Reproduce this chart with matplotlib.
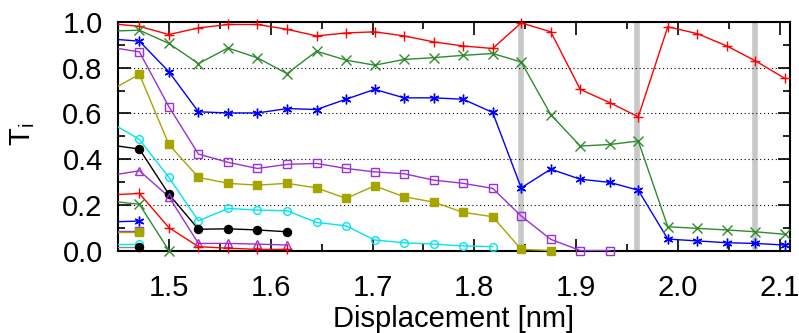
import numpy as np
import matplotlib
matplotlib.use('Agg')
import matplotlib.pyplot as plt
from matplotlib.ticker import MultipleLocator, FormatStrFormatter

plt.rcParams['font.family'] = ['Liberation Sans', 'DejaVu Sans']

# displacement grid (first point lies just left of the visible range)
disp = [1.442, 1.471, 1.500, 1.529, 1.558, 1.587, 1.616, 1.645, 1.674, 1.702,
        1.731, 1.760, 1.789, 1.818, 1.846, 1.875, 1.904, 1.933, 1.961, 1.990,
        2.019, 2.048, 2.076, 2.105]

red_hi = [0.993, 0.981, 0.945, 0.974, 0.989, 0.989, 0.968, 0.939, 0.952, 0.957,
          0.939, 0.913, 0.895, 0.884, 0.996, 0.957, 0.705, 0.647, 0.585, 0.979,
          0.949, 0.895, 0.830, 0.753]
green_hi = [0.960, 0.964, 0.906, 0.818, 0.886, 0.843, 0.774, 0.872, 0.833, 0.811,
            0.836, 0.844, 0.854, 0.862, 0.825, 0.595, 0.457, 0.464, 0.479, 0.104,
            0.097, 0.090, 0.082, 0.071]
blue_hi = [0.926, 0.916, 0.782, 0.607, 0.602, 0.602, 0.621, 0.617, 0.662, 0.705,
           0.668, 0.668, 0.662, 0.604, 0.274, 0.356, 0.312, 0.298, 0.264, 0.050,
           0.042, 0.034, 0.031, 0.024]
purple_sq = [0.890, 0.869, 0.629, 0.422, 0.386, 0.359, 0.377, 0.381, 0.359, 0.344,
             0.336, 0.308, 0.294, 0.272, 0.151, 0.049, 0.0, 0.0]
olive_sq = [0.699, 0.771, 0.464, 0.320, 0.294, 0.286, 0.294, 0.274, 0.228, 0.283,
            0.235, 0.212, 0.167, 0.148, 0.005, 0.0]
cyan_hi = [0.562, 0.486, 0.320, 0.130, 0.184, 0.177, 0.174, 0.123, 0.108, 0.046,
           0.034, 0.028, 0.020, 0.017]
black_hi = [0.462, 0.444, 0.246, 0.093, 0.095, 0.090, 0.082]
purple_tri = [0.328, 0.349, 0.235, 0.031, 0.031, 0.028, 0.024]
red_lo = [0.243, 0.250, 0.100, 0.017, 0.010, 0.005, 0.005]
green_lo = [0.217, 0.202, 0.0]
blue_lo = [0.125, 0.129]
purple_lo = [0.085, 0.085]
olive_lo = [0.080, 0.080]
cyan_lo = [0.027, 0.027]
black_lo = [0.017, 0.017]

# transitions marked by grey bars
transitions = [1.846, 1.960, 2.076]

RED, GREEN, BLUE = '#ff0000', '#2e8b2e', '#0000ff'
PURPLE, OLIVE, CYAN = '#9b30d9', '#a5a500', '#00e5ee'
STAR = (6, 2, 0)

# values, line colour, marker, face colour, marker size
series = [
    (red_hi, RED, '+', 'none', 7),
    (green_hi, GREEN, 'x', 'none', 7),
    (blue_hi, BLUE, STAR, 'none', 7),
    (purple_sq, PURPLE, 's', 'none', 5.5),
    (olive_sq, OLIVE, 's', OLIVE, 5.5),
    (cyan_hi, CYAN, 'o', 'none', 5.5),
    (black_hi, 'black', 'o', 'black', 5.8),
    (purple_tri, PURPLE, '^', 'none', 5.5),
    (red_lo, RED, '+', 'none', 7),
    (green_lo, GREEN, 'x', 'none', 7),
    (blue_lo, BLUE, STAR, 'none', 7),
    (purple_lo, PURPLE, 's', 'none', 5.5),
    (olive_lo, OLIVE, 's', OLIVE, 5.5),
    (cyan_lo, CYAN, 'o', 'none', 5.5),
    (black_lo, '#888888', 'o', 'black', 5.8),
]

xmin, xmax = 1.45, 2.11

fig = plt.figure(figsize=(7.99, 3.33), dpi=100)
ax = fig.add_axes([0.1477, 0.2477, 0.8410, 0.6863])

for t in transitions:
    ax.axvline(t, color='#c8c8c8', lw=4, zorder=1)

ax.yaxis.grid(True, which='major', color='black', ls=(0, (1, 2.5)), lw=0.8, zorder=1)

for vals, col, mk, fc, ms in series:
    x = np.array(disp[:len(vals)])
    y = np.array(vals)
    ax.plot(x, y, color=col, lw=1.0, zorder=3)
    vis = x >= xmin
    ec = 'black' if col == '#888888' else col
    ax.plot(x[vis], y[vis], ls='none', marker=mk, markersize=ms, mfc=fc, mec=ec,
            mew=1.0, clip_on=False, zorder=4)

ax.set_xlim(xmin, xmax)
ax.set_ylim(0, 1)
ax.xaxis.set_major_locator(MultipleLocator(0.1))
ax.xaxis.set_minor_locator(MultipleLocator(0.05))
ax.yaxis.set_major_locator(MultipleLocator(0.2))
ax.yaxis.set_minor_locator(MultipleLocator(0.1))
ax.xaxis.set_major_formatter(FormatStrFormatter('%.1f'))
ax.yaxis.set_major_formatter(FormatStrFormatter('%.1f'))
ax.tick_params(which='both', direction='in', top=True, right=True, width=1.2,
               labelsize=21)
ax.tick_params(axis='x', which='both', pad=17)
ax.tick_params(axis='y', which='both', pad=11)
ax.tick_params(which='major', length=9)
ax.tick_params(which='minor', length=5)
for s in ax.spines.values():
    s.set_linewidth(1.5)

ax.set_xlabel('Displacement [nm]', fontsize=21, labelpad=2)
ax.set_ylabel(r'$\mathregular{T_i}$', fontsize=21)
ax.yaxis.set_label_coords(-0.121, 0.51)

fig.savefig('out.png', dpi=100)
